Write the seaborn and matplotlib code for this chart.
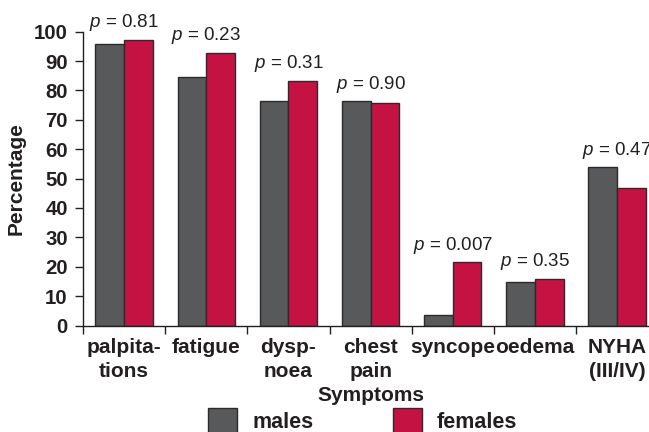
"""Symptom prevalence by sex, grouped bars with p-values."""

import matplotlib
matplotlib.use("Agg")
import matplotlib.pyplot as plt
import matplotlib.patches as mpatches
import numpy as np
import pandas as pd
import seaborn as sns

symptoms = ["palpita-\ntions", "fatigue", "dysp-\nnoea", "chest\npain",
            "syncope", "oedema", "NYHA\n(III/IV)"]
males = [95.7, 84.5, 76.4, 76.4, 3.7, 14.9, 54.0]
females = [97.3, 92.9, 83.3, 75.7, 21.5, 16.0, 46.7]
p_values = ["0.81", "0.23", "0.31", "0.90", "0.007", "0.35", "0.47"]

COLORS = {"males": "#58595b", "females": "#c41243"}
INK = "#231f20"

df = pd.DataFrame({
    "symptom": symptoms * 2,
    "pct": males + females,
    "sex": ["males"] * len(symptoms) + ["females"] * len(symptoms),
})

sns.set_theme(style="ticks")
plt.rcParams["font.family"] = ["Liberation Sans", "DejaVu Sans"]
plt.rcParams["mathtext.fontset"] = "custom"
plt.rcParams["mathtext.it"] = "Liberation Sans:italic"
plt.rcParams["mathtext.rm"] = "Liberation Sans"

fig = plt.figure(figsize=(6.49, 4.32), dpi=100)
ax = fig.add_axes([0.128, 0.2465, 1.014 - 0.128, 0.9266 - 0.2465])

sns.barplot(data=df, x="symptom", y="pct", hue="sex", order=symptoms,
            hue_order=["males", "females"], palette=COLORS, width=0.7,
            gap=0, saturation=1, edgecolor="#2b2b2b", linewidth=1.0,
            legend=False, ax=ax)

ax.set_xlim(-0.5, len(symptoms) - 0.5)
ax.set_ylim(0, 100)
ax.set_yticks(range(0, 101, 10))
ax.tick_params(axis="y", labelsize=14.7, length=6, width=1, pad=5,
               colors=INK)
for lab in ax.get_yticklabels():
    lab.set_fontweight("bold")

# ticks between the groups, labels in the middle
ax.set_xticks(np.arange(len(symptoms) + 1) - 0.5)
ax.set_xticklabels([])
ax.tick_params(axis="x", which="major", length=6, width=1, color=INK)
ax.set_xticks(np.arange(len(symptoms)), minor=True)
ax.set_xticklabels(symptoms, minor=True, fontsize=15, fontweight="bold",
                   color=INK, linespacing=1.3)
ax.tick_params(axis="x", which="minor", length=0, pad=9)

ax.set_xlabel("Symptoms", fontsize=15, fontweight="bold", color=INK,
              labelpad=4)
ax.set_ylabel("Percentage", fontsize=15, fontweight="bold", color=INK,
              labelpad=6)

for side in ["top", "right"]:
    ax.spines[side].set_visible(False)
for side in ["left", "bottom"]:
    ax.spines[side].set_color(INK)
    ax.spines[side].set_linewidth(1)

for i, p in enumerate(p_values):
    top = max(males[i], females[i])
    ax.text(i, top + 4.2, f"$p$ = {p}", ha="center", va="baseline",
            fontsize=13.5, color=INK, clip_on=False)

handles = [mpatches.Patch(facecolor=COLORS[k], edgecolor="#2b2b2b", lw=1)
           for k in ["males", "females"]]
fig.legend(handles, ["males", "females"], ncol=2, loc="upper left",
           bbox_to_anchor=(0.3205, 0.056), frameon=False, handlelength=1.35,
           handleheight=1.45, handletextpad=0.7, columnspacing=3.7,
           prop={"size": 15.5, "weight": "bold"}, labelcolor=INK,
           borderaxespad=0, borderpad=0)

fig.savefig("out.png", dpi=100)
